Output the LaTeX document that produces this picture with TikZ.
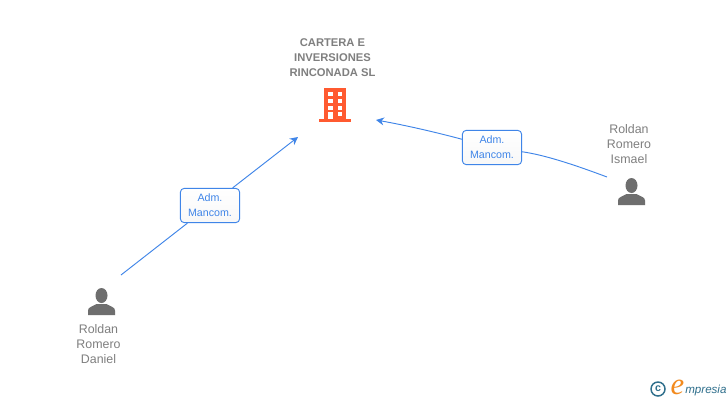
\documentclass[tikz,border=0pt]{standalone}
\usepackage{fontspec}
\setmainfont{Liberation Sans}
\newfontfamily\logofont{Liberation Serif}
\definecolor{LinkBlue}{HTML}{3F85E8}
\definecolor{NameGray}{HTML}{7F7F7F}
\definecolor{IconGray}{HTML}{6E6E6E}
\definecolor{BuildingRed}{HTML}{FF5A30}
\definecolor{LogoTeal}{HTML}{2F6F8C}
\definecolor{LogoOrange}{HTML}{F28A1E}
\usetikzlibrary{arrows.meta, positioning}
\tikzset{
  % Box styles
  rolebox/.style={rectangle, rounded corners=3pt, draw=LinkBlue, line width=0.7pt, top color=white, bottom color=black!3, minimum width=44.5pt, minimum height=25.75pt, inner sep=0pt, text=LinkBlue, align=center, font=\fontsize{8}{11.25}\selectfont},
  % Text styles
  companylabel/.style={align=center, text=NameGray, font=\bfseries\fontsize{8.4}{11.25}\selectfont},
  personlabel/.style={align=center, text=NameGray, font=\fontsize{9.3}{11.25}\selectfont},
  % Arrow styles
  linkline/.style={draw=LinkBlue, line width=0.7pt},
  linkarrow/.style={linkline, -{Stealth[length=6pt, width=6pt]}},
  % Icons
  personicon/.pic={
    \fill[IconGray] (0,-6) ellipse (6 and 7.5);
    \fill[IconGray] (-13.5,13.5) -- (-13.5,9) .. controls (-13.5,5.5) and (-9,5) .. (-5,2.5) -- (5,2.5) .. controls (9,5) and (13.5,5.5) .. (13.5,9) -- (13.5,13.5) -- cycle;
  }
}
\begin{document}
\begin{tikzpicture}[x=0.75pt, y=-0.75pt]
  \useasboundingbox (0,0) rectangle (728,400);
  \fill[white] (0,0) rectangle (728,400);

  % company
  \node[companylabel] (company) at (332.5,58) {CARTERA E\\INVERSIONES\\RINCONADA SL};
  \fill[BuildingRed] (324.3,88.3) rectangle (346,119.3);
  \fill[BuildingRed] (319.3,119.3) rectangle (351,121.7);
  \foreach \wx in {328,337.7}
    \foreach \wy in {91.7,98.9,105.8}
      \fill[white] (\wx,\wy) rectangle +(4.6,4.2);
  \fill[white] (328,112.3) rectangle (332.6,119.3);
  \fill[white] (337.7,112.3) rectangle (342.3,116);

  % persons
  \pic (daniel) at (101.5,301.5) {personicon};
  \pic (ismael) at (631.5,191.5) {personicon};
  \node[personlabel] (danielname) at (98.5,344) {Roldan\\Romero\\Daniel};
  \node[personlabel] (ismaelname) at (629,144) {Roldan\\Romero\\Ismael};

  % links
  \coordinate (danielend) at (121,275);
  \coordinate (ismaelend) at (607,177);
  \coordinate (companyleft) at (298,137);
  \coordinate (companyright) at (376,120);
  \node[rolebox] (roleleft) at (210,205.5) {Adm.\\Mancom.};
  \node[rolebox] (roleright) at (492,147.5) {Adm.\\Mancom.};
  \draw[linkline] (danielend) -- (roleleft);
  \draw[linkarrow] (roleleft) -- (companyleft);
  \draw[linkline] (ismaelend) .. controls (575,165) and (545,155) .. (roleright);
  \draw[linkarrow] (roleright) .. controls (450,136) and (415,127) .. (companyright);

  % logo
  \node[circle, draw=LogoTeal, line width=1.1pt, minimum size=10.5pt, inner sep=0pt, text=LogoTeal, font=\bfseries\fontsize{8}{8}\selectfont] (copyright) at (658,389) {c};
  \node[text=LogoOrange, font=\logofont\itshape\fontsize{23}{23}\selectfont, inner sep=0pt] (logoe) at (677.5,387) {e};
  \node[text=LogoTeal, font=\itshape\fontsize{8.7}{10}\selectfont, inner sep=0pt, anchor=west] (logotext) at (685,390) {mpresia};
\end{tikzpicture}
\end{document}
